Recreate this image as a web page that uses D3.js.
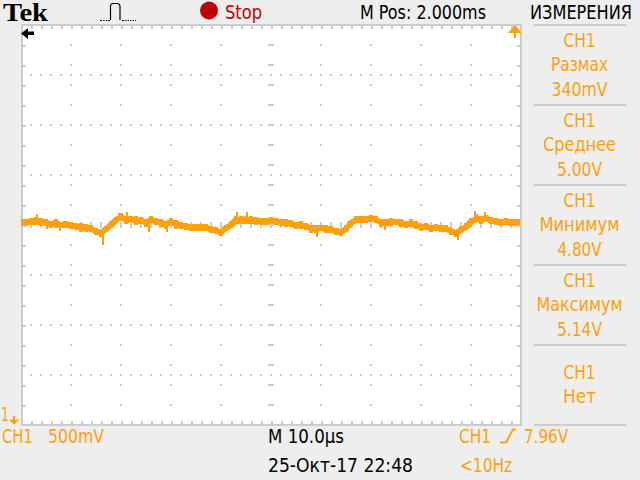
<!DOCTYPE html>
<html><head><meta charset="utf-8">
<script src="https://cdn.jsdelivr.net/npm/d3@7"></script>
<style>html,body{margin:0;padding:0;background:#eeeeee}svg{display:block}</style>
</head><body><svg id="c" width="640" height="480"></svg>
<script>
// Trace: CH1 volts, one reading per microsecond (0..100 us)
const traceVolts = [5.03,5.02,5.04,5.03,5.04,5.02,5.01,5.02,5.00,5.01,4.99,4.99,4.97,4.98,4.96,4.94,4.92,4.96,5.00,5.05,
5.08,5.05,5.06,5.04,5.04,5.03,5.05,5.04,5.02,5.01,5.03,5.01,5.00,4.98,4.98,4.97,4.98,4.97,4.96,4.94,
4.93,4.97,5.00,5.05,5.04,5.05,5.04,5.05,5.03,5.04,5.04,5.04,5.02,5.03,5.01,5.00,5.00,4.98,4.97,4.96,
4.97,4.96,4.95,4.94,4.93,4.96,5.02,5.05,5.06,5.05,5.07,5.05,5.03,5.02,5.03,5.03,5.02,5.01,5.01,5.00,
4.98,4.98,4.97,4.97,4.97,4.96,4.94,4.92,4.95,4.98,5.03,5.06,5.05,5.06,5.05,5.03,5.03,5.03,5.02,5.03,5.03];
// Band half-heights (volts above / below the reading)
const bandUp = [.03,.04,.03,.05,.03,.04,.03,.04,.03,.03,.04,.03,.05,.03,.04,.03,.03,.03,.04,.03,
.04,.04,.03,.05,.04,.03,.04,.03,.04,.03,.04,.04,.03,.04,.03,.04,.03,.04,.03,.04,
.03,.03,.04,.04,.05,.04,.05,.03,.04,.03,.04,.03,.04,.03,.04,.03,.04,.04,.03,.04,
.03,.04,.04,.03,.03,.04,.03,.04,.03,.04,.03,.04,.03,.04,.04,.03,.04,.03,.05,.04,
.03,.04,.03,.04,.03,.04,.03,.03,.04,.04,.04,.05,.04,.04,.03,.04,.03,.04,.04,.03,.03];
const bandDown = [.04,.03,.04,.03,.05,.03,.04,.05,.03,.04,.03,.04,.04,.05,.03,.04,.04,.03,.03,.03,
.03,.04,.03,.04,.03,.05,.03,.04,.04,.05,.03,.05,.04,.03,.04,.03,.04,.03,.04,.03,
.04,.03,.03,.04,.03,.04,.03,.05,.03,.04,.03,.04,.03,.05,.03,.04,.04,.03,.05,.04,
.03,.04,.03,.04,.04,.03,.04,.03,.04,.03,.04,.03,.05,.03,.04,.03,.04,.04,.03,.04,
.04,.03,.04,.03,.04,.03,.04,.04,.03,.03,.03,.03,.04,.03,.04,.03,.04,.03,.03,.04,.03];
// Noise spikes: time (us) and the volts they reach
const spikeTimes = [3.2,5.2,7.8,16.4,19.6,21.2,25.6,29.2,43.2,45.2,59.2,69.4,72.8,87.4,90.8,92.8];
const spikeVolts = [5.11,4.96,4.94,4.80,5.12,5.13,4.93,4.93,5.13,5.13,4.88,5.09,4.95,4.85,5.14,5.13];
const measureLabels = [["CH1","Размах","340mV"],["CH1","Среднее","5.00V"],["CH1","Минимум","4.80V"],["CH1","Максимум","5.14V"],["CH1","Нет"]];
const timeDomain = [0,100], voltDomain = [3,7];

const ORANGE="#ffa00c", GRID="#cccccc", FRAME="#cccccc";
const FONT="'DejaVu Sans Condensed','DejaVu Sans',sans-serif";
const svg=d3.select("#c");
svg.append("rect").attr("width",640).attr("height",480).attr("fill","#eeeeee");
svg.append("rect").attr("x",21).attr("y",24).attr("width",501).attr("height",402).attr("fill",FRAME).attr("shape-rendering","crispEdges");
svg.append("rect").attr("x",23).attr("y",26).attr("width",497).attr("height",398).attr("fill","#fff").attr("shape-rendering","crispEdges");
svg.append("clipPath").attr("id","plot").append("rect").attr("x",21).attr("y",26).attr("width",499).attr("height",398);

const x=d3.scaleLinear().domain(timeDomain).range([21,521]);
const y=d3.scaleLinear().domain(voltDomain).range([425,25]);
const xMinor=d3.range(2,100,2), yMinor=d3.range(3.2,6.9,0.2);
const xDiv=d3.range(10,100,10), yDiv=d3.range(3.5,7,0.5);

// grid dots
const grid=svg.append("g").attr("shape-rendering","crispEdges").attr("fill",GRID);
xDiv.forEach(t=>{ const center=t===50;
  yMinor.forEach(v=>{
    grid.append("rect").attr("x",Math.round(x(t))-(center?3:1)).attr("y",Math.round(y(v))-1)
      .attr("width",center?6:2).attr("height",2);
  });
});
yDiv.forEach(v=>{ const center=v===5;
  xMinor.forEach(t=>{
    grid.append("rect").attr("x",Math.round(x(t))-1).attr("y",Math.round(y(v))-(center?3:1))
      .attr("width",2).attr("height",center?6:2);
  });
});

// frame ticks through d3 axes
function styleAxis(g){ g.attr("shape-rendering","crispEdges");
  g.selectAll(".domain").remove();
  g.selectAll(".tick line").attr("stroke",FRAME).attr("stroke-width",2);
  g.selectAll("text").remove(); }
svg.append("g").attr("transform","translate(0,25)").call(d3.axisBottom(x).tickValues(xMinor).tickSize(4)).call(styleAxis);
svg.append("g").attr("transform","translate(0,425)").call(d3.axisTop(x).tickValues(xMinor).tickSize(4)).call(styleAxis);
svg.append("g").attr("transform","translate(22,0)").call(d3.axisRight(y).tickValues(yMinor).tickSize(4)).call(styleAxis);
svg.append("g").attr("transform","translate(521,0)").call(d3.axisLeft(y).tickValues(yMinor).tickSize(4)).call(styleAxis);

// trace
const trace=svg.append("g").attr("clip-path","url(#plot)").attr("shape-rendering","crispEdges");
const line=d3.line().x((d,i)=>x(i)).y(d=>y(d));
trace.append("path").datum(traceVolts).attr("d",line).attr("fill","none").attr("stroke",ORANGE)
  .attr("stroke-width",6);
trace.append("g").attr("fill",ORANGE).selectAll("rect").data(traceVolts).join("rect")
  .attr("x",(d,i)=>x(i)-2).attr("width",4)
  .attr("y",(d,i)=>y(d+bandUp[i]))
  .attr("height",(d,i)=>y(d-bandDown[i])-y(d+bandUp[i]));
trace.append("g").selectAll("line").data(spikeTimes).join("line")
  .attr("x1",d=>x(d)).attr("x2",d=>x(d))
  .attr("y1",d=>y(traceVolts[Math.round(d)]))
  .attr("y2",(d,i)=>y(spikeVolts[i]))
  .attr("stroke",ORANGE).attr("stroke-width",2);

// text
function txt(s,xp,yp,w,size,fill,anchor,extra){
  const t=svg.append("text").attr("x",xp).attr("y",yp).attr("font-family",(extra&&extra.family)||FONT)
    .attr("font-size",size).attr("fill",fill).attr("text-anchor",anchor||"start").text(s);
  if(w) t.attr("textLength",w).attr("lengthAdjust","spacingAndGlyphs");
  if(extra&&extra.weight) t.attr("font-weight",extra.weight);
  return t;
}
txt("Tek",3,21,45,25,"#000","start",{family:"'Liberation Serif',serif",weight:"bold"});
txt("Stop",225,18.5,37,19,"#c00000");
txt("M Pos: 2.000ms",360,18.5,126,19,"#000");
txt("ИЗМЕРЕНИЯ",530,18.5,102,19,"#000");
svg.append("circle").attr("cx",209).attr("cy",10.5).attr("r",9).attr("fill","#c00000");

// acquisition glyph
svg.append("path").attr("d","M100 20.5H110 M110.5 20V6Q111 3.5 113 3.5H117Q119.5 3.5 120 6V20 M122 20.5H136")
  .attr("fill","none").attr("stroke","#000").attr("stroke-width",1.2);
svg.append("g").attr("fill","#eeeeee").selectAll("rect").data([102,104.5,107,124,126.5,129,131.5,134]).join("rect")
  .attr("x",d=>d).attr("y",19).attr("width",1.2).attr("height",3);

// measurement panel
const ruleYs=[25,105,185,265,345,425];
svg.append("g").attr("shape-rendering","crispEdges").selectAll("rect").data(ruleYs).join("rect")
  .attr("x",534).attr("y",d=>d-1).attr("width",92).attr("height",2).attr("fill",FRAME);
const labelWidths=[[32,57,56],[32,73,45],[32,80,44],[32,86,45],[32,33]];
measureLabels.forEach((rows,p)=>{
  const base=p<4?[47+80*p,71+80*p,96+80*p]:[379,403];
  rows.forEach((s,i)=>txt(s,579.5,base[i],labelWidths[p][i],20,ORANGE,"middle"));
});

// bottom readouts
txt("CH1",2,443,31,20,ORANGE);
txt("500mV",48,443,56,20,ORANGE);
txt("M 10.0μs",268,443,76,20,"#000");
txt("25-Окт-17 22:48",268,472,145,20,"#000");
txt("CH1",459,443,32,20,ORANGE);
svg.append("path").attr("d","M500 442.5H506L513 429.5H516").attr("fill","none").attr("stroke",ORANGE).attr("stroke-width",2);
txt("7.96V",524,443,44,20,ORANGE);
txt("<10Hz",460,472,52,20,ORANGE);

// markers
svg.append("path").attr("d","M21 33.5L28 28V31.5H34V35H28V39Z").attr("fill","#000");
svg.append("path").attr("d","M508 33L515 25L522 33H516V38H514V33Z").attr("fill",ORANGE);
txt("1",1,421,8,20,ORANGE);
svg.append("path").attr("d","M9 419.5H19L14 425Z M13 416H15V420H13Z").attr("fill",ORANGE);
</script></body></html>
